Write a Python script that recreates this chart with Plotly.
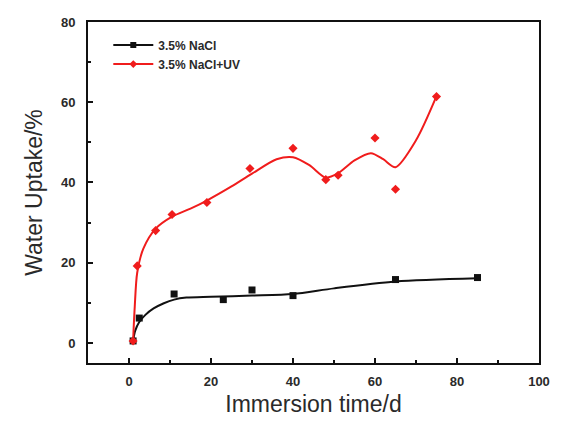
import plotly.graph_objects as go

# Measured water uptake (%) vs immersion time (days)
days_nacl = [1, 2.5, 11, 23, 30, 40, 65, 85]
uptake_nacl = [0.5, 6.2, 12.2, 10.8, 13.2, 11.8, 15.8, 16.3]

days_uv = [1, 2, 6.5, 10.5, 19, 29.5, 40, 48, 51, 60, 65, 75]
uptake_uv = [0.5, 19.2, 28, 32, 35, 43.5, 48.5, 40.7, 41.8, 51.1, 38.3, 61.4]

# Smoothed trend lines through each series
fit_x_nacl = [1, 1.5, 2.5, 4, 6, 8.5, 11, 14, 20, 30, 40, 50, 65, 85]
fit_y_nacl = [0.5, 3.0, 5.2, 7.0, 8.6, 9.9, 10.8, 11.3, 11.5, 11.8, 12.2, 13.6, 15.3, 16.1]

fit_x_uv = [1, 1.4, 2, 3.5, 6.5, 10.5, 15, 19, 25, 30, 36, 40, 44, 48, 51, 55, 59, 62, 65, 70, 75]
fit_y_uv = [0.5, 9, 17.5, 23.5, 28.5, 31.5, 33.5, 35.5, 39, 42.2, 45.8, 46.3, 44.3, 41.2, 42.3, 45.5, 47.3, 45.8, 43.8, 50.5, 61.5]

BLACK = "#111111"
RED = "#f01c1c"

fig = go.Figure()

fig.add_trace(go.Scatter(x=fit_x_nacl, y=fit_y_nacl, mode="lines",
                         line=dict(color=BLACK, width=2, shape="spline", smoothing=0.8),
                         showlegend=False, hoverinfo="skip"))
fig.add_trace(go.Scatter(x=fit_x_uv, y=fit_y_uv, mode="lines",
                         line=dict(color=RED, width=2, shape="spline", smoothing=0.8),
                         showlegend=False, hoverinfo="skip"))

fig.add_trace(go.Scatter(x=days_nacl, y=uptake_nacl, mode="markers",
                         marker=dict(symbol="square", size=7, color=BLACK),
                         showlegend=False))
fig.add_trace(go.Scatter(x=days_uv, y=uptake_uv, mode="markers",
                         marker=dict(symbol="diamond", size=7, color=RED),
                         showlegend=False))

# Legend entries (line with symbol)
fig.add_trace(go.Scatter(x=[None], y=[None], mode="lines+markers", name="3.5% NaCl",
                         line=dict(color=BLACK, width=2),
                         marker=dict(symbol="square", size=6, color=BLACK)))
fig.add_trace(go.Scatter(x=[None], y=[None], mode="lines+markers", name="3.5% NaCl+UV",
                         line=dict(color=RED, width=2),
                         marker=dict(symbol="diamond", size=6, color=RED)))

tick_font = dict(family="Liberation Sans", size=13, color="#2a2a2a", weight="bold")
title_font = dict(family="Liberation Sans", size=23, color="#2a2a2a")

fig.update_layout(
    width=562, height=425,
    margin=dict(l=88, r=14, t=22, b=60),
    paper_bgcolor="white", plot_bgcolor="white",
    legend=dict(x=0.045, y=0.975, xanchor="left", yanchor="top",
                bgcolor="rgba(0,0,0,0)",
                font=dict(family="Liberation Sans", size=12, color="#2a2a2a", weight="bold"),
                itemwidth=40, tracegroupgap=0),
    xaxis=dict(range=[-10, 100], tickvals=[0, 20, 40, 60, 80, 100],
               ticks="inside", ticklen=5, tickwidth=1.5, tickcolor=BLACK,
               minor=dict(tickvals=[10, 30, 50, 70, 90], ticks="inside", ticklen=3, tickwidth=1.5, tickcolor=BLACK),
               showline=True, linewidth=2, linecolor=BLACK, mirror=True,
               showgrid=False, zeroline=False, tickfont=tick_font, ticklabelstandoff=5,
               title=dict(text="Immersion time/d", font=title_font, standoff=8)),
    yaxis=dict(range=[-5, 80], tickvals=[0, 20, 40, 60, 80],
               ticks="inside", ticklen=5, tickwidth=1.5, tickcolor=BLACK,
               minor=dict(tickvals=[10, 30, 50, 70], ticks="inside", ticklen=3, tickwidth=1.5, tickcolor=BLACK),
               showline=True, linewidth=2, linecolor=BLACK, mirror=True,
               showgrid=False, zeroline=False, tickfont=tick_font, ticklabelstandoff=8,
               title=dict(text="Water Uptake/%", font=title_font, standoff=12)),
)

fig.write_html("out.html")
